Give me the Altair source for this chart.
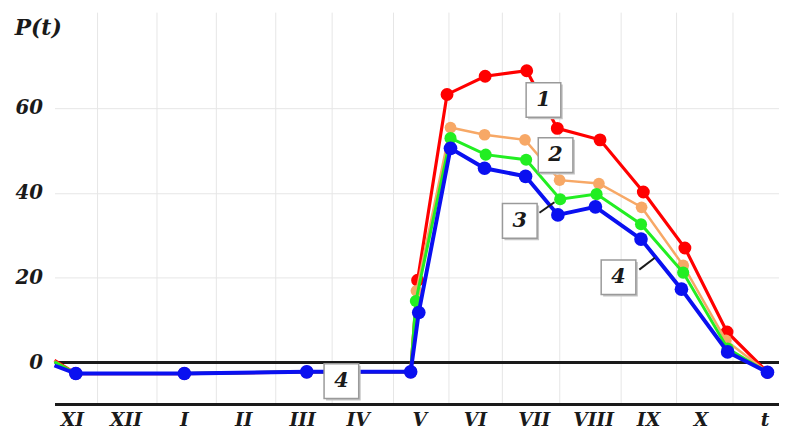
import altair as alt
import pandas as pd

# x axis (months), positions in month units
month_labels = ["XI", "XII", "I", "II", "III", "IV", "V", "VI", "VII", "VIII", "IX", "X", "t"]
month_pos = [0.0, 0.93, 1.94, 2.97, 3.99, 4.95, 6.02, 6.98, 8.0, 9.03, 9.98, 10.89, 12.0]
grid_pos = [0.43, 1.46, 2.49, 3.51, 4.49, 5.55, 6.51, 7.44, 8.43, 9.49, 10.45, 11.43]
y_ticks = [0, 20, 40, 60]

# series 1 (red)
t1 = [-0.31, 0.06, 1.94, 4.06, 5.86, 5.98, 6.49, 7.15, 7.87, 8.40, 9.14, 9.89, 10.61, 11.34, 12.04]
p1 = [0.5, -2.6, -2.6, -2.2, -2.2, 19.4, 63.2, 67.5, 68.8, 55.2, 52.5, 40.2, 27.0, 7.2, -2.3]
# series 2 (orange)
t2 = [-0.31, 0.06, 1.94, 4.06, 5.86, 5.96, 6.55, 7.14, 7.84, 8.44, 9.12, 9.86, 10.58, 11.32, 12.04]
p2 = [0.3, -2.6, -2.6, -2.2, -2.2, 16.9, 55.4, 53.7, 52.5, 43.0, 42.2, 36.6, 22.9, 5.2, -2.3]
# series 3 (green)
t3 = [-0.31, 0.06, 1.94, 4.06, 5.86, 5.95, 6.55, 7.16, 7.86, 8.45, 9.08, 9.85, 10.58, 11.35, 12.04]
p3 = [0.2, -2.6, -2.6, -2.2, -2.2, 14.5, 52.9, 49.0, 47.8, 38.5, 39.7, 32.6, 21.2, 3.3, -2.3]
# series 4 (blue)
t4 = [-0.31, 0.06, 1.94, 4.06, 5.86, 6.00, 6.55, 7.14, 7.85, 8.41, 9.06, 9.85, 10.55, 11.35, 12.04]
p4 = [-0.7, -2.6, -2.6, -2.2, -2.2, 11.8, 50.5, 45.8, 43.9, 34.8, 36.7, 29.1, 17.3, 2.5, -2.3]

series_names = ["1", "2", "3", "4"]
series_t = [t1, t2, t3, t4]
series_p = [p1, p2, p3, p4]
series_colors = ["#ff0000", "#f7a866", "#22ee22", "#0a10f0"]
series_widths = [3.2, 2.5, 3, 4]
series_sizes = [170, 140, 150, 190]

# annotation boxes
box_text = ["1", "2", "3", "4", "4"]
box_t = [8.16, 8.37, 7.75, 9.46, 4.66]
box_p = [61.9, 48.9, 33.4, 20.1, -4.4]

# leader lines
arr_t = [8.09, 9.82]
arr_p = [35.3, 21.9]
arr_t2 = [8.35, 10.09]
arr_p2 = [37.8, 24.7]

FONT = "DejaVu Serif"
TXT = "#1a1a1a"
GRID = "#e6e6e6"

xscale = alt.Scale(domain=[-0.309, 12.24], nice=False, zero=False)
yscale = alt.Scale(domain=[-9.8, 82.6], nice=False, zero=False)

xaxis = alt.Axis(values=grid_pos, grid=True, gridColor=GRID, gridWidth=1,
                 labels=False, ticks=False, domain=True, domainColor=TXT,
                 domainWidth=3, title=None)
yaxis = alt.Axis(values=y_ticks, grid=True, gridColor=GRID, gridWidth=1,
                 domain=False, ticks=False, tickSize=0, labelPadding=12,
                 labelFont=FONT, labelFontStyle="italic", labelFontWeight="bold",
                 labelFontSize=20, labelColor=TXT, title="P(t)", titleAngle=0,
                 titleX=-17, titleY=16, titleAlign="center", titleBaseline="middle",
                 titleFont=FONT, titleFontSize=22, titleFontStyle="italic",
                 titleFontWeight="bold", titleColor=TXT)

X = lambda f="t": alt.X(f"{f}:Q", scale=xscale, axis=xaxis)
Y = lambda f="p": alt.Y(f"{f}:Q", scale=yscale, axis=yaxis)

zero_df = pd.DataFrame({"p": [0]})
zero_line = alt.Chart(zero_df).mark_rule(color=TXT, strokeWidth=3).encode(y=Y())

layers = [zero_line]
for name, ts, ps, col, w, s in zip(series_names, series_t, series_p,
                                   series_colors, series_widths, series_sizes):
    df = pd.DataFrame({"t": ts, "p": ps, "s": name})
    df["marker"] = [i > 0 for i in range(len(ts))]
    line = alt.Chart(df).mark_line(color=col, strokeWidth=w).encode(x=X(), y=Y())
    pts = alt.Chart(df).transform_filter("datum.marker").mark_circle(
        color=col, opacity=1, size=s).encode(x=X(), y=Y())
    layers += [line, pts]

arr_df = pd.DataFrame({"t": arr_t, "p": arr_p, "t2": arr_t2, "p2": arr_p2})
arrows = alt.Chart(arr_df).mark_rule(color=TXT, strokeWidth=2).encode(
    x=X(), y=Y(), x2="t2:Q", y2="p2:Q")

box_df = pd.DataFrame({"t": box_t, "p": box_p, "txt": box_text})
shadow = alt.Chart(box_df).mark_square(size=1225, color="#c4c4c4", opacity=1,
                                       xOffset=2, yOffset=2).encode(x=X(), y=Y())
boxes = alt.Chart(box_df).mark_square(size=1225, fill="white", fillOpacity=1,
                                      stroke="#9a9a9a", strokeWidth=1.5).encode(x=X(), y=Y())
box_txt = alt.Chart(box_df).mark_text(font=FONT, fontSize=21, fontStyle="italic",
                                      fontWeight="bold", color=TXT, baseline="middle",
                                      align="center").encode(x=X(), y=Y(), text="txt:N")

lab_df = pd.DataFrame({"t": month_pos, "lab": month_labels})
month_txt = alt.Chart(lab_df).mark_text(font=FONT, fontSize=19, fontStyle="italic",
                                        fontWeight="bold", color=TXT, baseline="middle",
                                        align="center").encode(
    x=X(), y=alt.value(412), text="lab:N")

layers += [arrows, shadow, boxes, box_txt, month_txt]

chart = alt.layer(*layers).properties(
    width=732, height=396,
    padding={"left": 47, "top": 2, "right": 0, "bottom": 26},
    autosize=alt.AutoSizeParams(type="none"),
    background="white",
).configure_view(stroke=None)

chart.save("out.html", embed_options={"renderer": "svg", "actions": False})
